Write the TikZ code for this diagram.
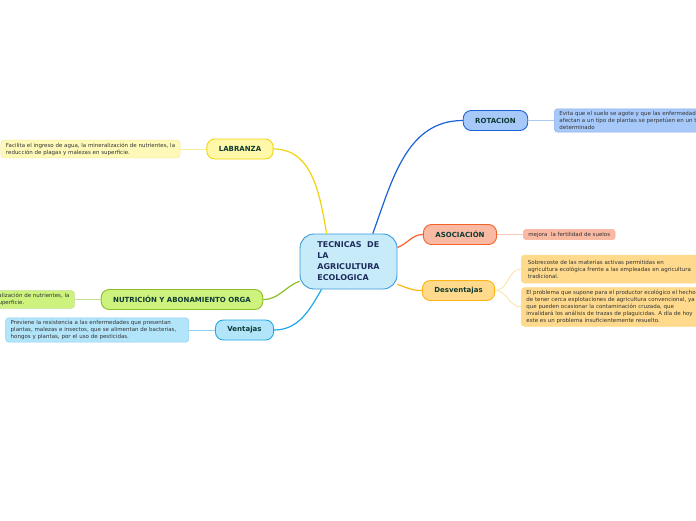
\documentclass[tikz,border=0pt]{standalone}
\usepackage{fontspec}
\setmainfont{DejaVu Sans}
\usetikzlibrary{positioning}
\definecolor{TemaFill}{HTML}{C8EBFA}
\definecolor{TemaLine}{HTML}{3A9AD9}
\definecolor{TemaText}{HTML}{1F2D5C}
\definecolor{RamaText}{HTML}{0E3B33}
\definecolor{NotaText}{HTML}{333333}
\definecolor{LabFill}{HTML}{FFF8A8}
\definecolor{LabLine}{HTML}{F2D20C}
\definecolor{NutFill}{HTML}{CDF27E}
\definecolor{NutLine}{HTML}{8DBE24}
\definecolor{VenFill}{HTML}{B2E4FA}
\definecolor{VenLine}{HTML}{1DA8EA}
\definecolor{RotFill}{HTML}{A7C9FA}
\definecolor{RotLine}{HTML}{1B62D6}
\definecolor{AsoFill}{HTML}{F9B9A2}
\definecolor{AsoLine}{HTML}{F4622C}
\definecolor{DesFill}{HTML}{FFDA8C}
\definecolor{DesLine}{HTML}{FDB515}
\tikzset{
  tema/.style={
    rounded corners=14pt, draw=TemaLine, line width=0.9pt, fill=TemaFill,
    text=TemaText, font=\fontsize{8}{11}\selectfont\bfseries, align=left,
    inner xsep=15pt, inner ysep=5pt, minimum width=97pt, minimum height=55pt
  },
  rama/.style={
    rounded corners=8pt, line width=0.9pt, minimum height=20pt,
    inner xsep=12pt, inner ysep=0pt, text=RamaText,
    font=\fontsize{7}{8}\selectfont\bfseries
  },
  nota/.style={
    rounded corners=3pt, line width=0.5pt, inner xsep=5pt, inner ysep=2.5pt,
    align=left, text=NotaText, font=\fontsize{5.5}{7}\selectfont
  },
  enlace/.style={line width=1.2pt},
  guia/.style={line width=0.8pt}
}
\begin{document}
\begin{tikzpicture}[x=1pt,y=1pt,node distance=26pt]
    \useasboundingbox (0,0) rectangle (696,-520);
    \fill[white] (0,0) rectangle (696,-520);
    \clip (0,0) rectangle (696,-520);
    \node[tema] (tema) at (348.5,-261.5) {TECNICAS~ DE\\LA\\AGRICULTURA\\ECOLOGICA};
    \node[rama,draw=LabLine,fill=LabFill] (labranza) at (240,-149) {LABRANZA};
    \node[rama,draw=NutLine,fill=NutFill] (nutricion) at (182,-299.5) {NUTRICIÓN Y ABONAMIENTO ORGA};
    \node[rama,draw=VenLine,fill=VenFill] (ventajas) at (244.5,-330) {Ventajas};
    \node[rama,draw=RotLine,fill=RotFill] (rotacion) at (495.5,-120.5) {ROTACION};
    \node[rama,draw=AsoLine,fill=AsoFill] (asociacion) at (460,-234.5) {ASOCIACIÓN};
    \node[rama,draw=DesLine,fill=DesFill] (desventajas) at (458.5,-290.5) {Desventajas};
    \node[nota,left=of labranza,draw=LabLine!45,fill=LabFill!80] (notalab) {Facilita el ingreso de agua, la mineralización de nutrientes, la\\reducción de plagas y malezas en superficie.};
    \node[nota,left=of nutricion,draw=NutLine!50,fill=NutFill] (notanut) {Facilita el ingreso de agua, la mineralización de nutrientes, la\\reducción de plagas y malezas en superficie.};
    \node[nota,left=of ventajas,text width=173pt,draw=VenLine!50,fill=VenFill] (notaven) {Previene la resistencia a las enfermedades que presentan\\plantas, malezas e insectos, que se alimentan de bacterias,\\hongos y plantas, por el uso de pesticidas.};
    \node[nota,right=of rotacion,draw=RotLine!50,fill=RotFill] (notarot) {Evita que el suelo se agote y que las enfermedades que\\afectan a un tipo de plantas se perpetúen en un tiempo\\determinado};
    \node[nota,right=of asociacion,draw=AsoLine!50,fill=AsoFill] (notaaso) {mejora~ la fertilidad de suelos};
    \node[nota,right=of desventajas,yshift=21.5pt,minimum width=176pt,minimum height=28pt,draw=DesLine!50,fill=DesFill] (notades) {Sobrecoste de las materias activas permitidas en\\agricultura ecológica frente a las empleadas en agricultura\\tradicional.};
    \node[nota,right=of desventajas,yshift=-16.5pt,minimum width=176pt,draw=DesLine!50,fill=DesFill] (notacon) {El problema que supone para el productor ecológico el hecho\\de tener cerca explotaciones de agricultura convencional, ya\\que pueden ocasionar la contaminación cruzada, que\\invalidará los análisis de trazas de plaguicidas. A día de hoy\\este es un problema insuficientemente resuelto.};
    \draw[enlace,LabLine] (tema.128) to[out=100,in=0] (labranza.east);
    \draw[enlace,RotLine] (tema.49.5) to[out=70,in=180] (rotacion.west);
    \draw[enlace,AsoLine] (tema.16) to[out=20,in=180] (asociacion.west);
    \draw[enlace,DesLine] (tema.-25) to[out=-20,in=180] (desventajas.west);
    \draw[enlace,NutLine] (tema.202) to[out=200,in=0] (nutricion.east);
    \draw[enlace,VenLine] (tema.226) to[out=240,in=0] (ventajas.east);
    \draw[guia,LabLine!40] (labranza)--(notalab);
    \draw[guia,NutLine!50] (nutricion)--(notanut);
    \draw[guia,VenLine!50] (ventajas)--(notaven);
    \draw[guia,RotLine!35] (rotacion)--(notarot);
    \draw[guia,AsoLine!35] (asociacion)--(notaaso);
    \draw[guia,DesLine!40] (desventajas.east) to[out=0,in=180] (notades.west);
    \draw[guia,DesLine!40] (desventajas.east) to[out=0,in=180] (notacon.west);
  \end{tikzpicture}
\end{document}
